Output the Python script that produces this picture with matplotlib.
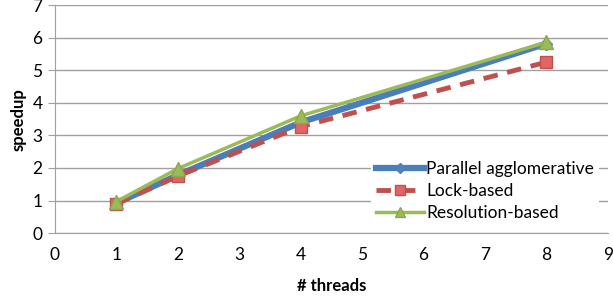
import matplotlib.pyplot as plt

threads = [1, 2, 4, 8]
parallel = [0.92, 1.78, 3.4, 5.82]
lock = [0.9, 1.75, 3.27, 5.25]
resolution = [0.97, 1.98, 3.6, 5.86]

plt.rcParams['font.family'] = ['Lato', 'DejaVu Sans']

fig = plt.figure(figsize=(6.13, 3.0), dpi=100)
ax = fig.add_axes([0.0897, 0.223, 0.902, 0.76])

ax.plot(threads, parallel, color='#4a7ebb', lw=4.5, marker='D', ms=6,
        mfc='#4f81bd', mec='#4a7ebb', label='Parallel agglomerative', zorder=3)
ax.plot(threads, lock, color='#c0504d', lw=3.5, ls=(0, (3, 2)), marker='s', ms=9,
        mfc='#e06666', mec='#c0504d', label='Lock-based', zorder=4)
ax.plot(threads, resolution, color='#9bbb59', lw=2.5, marker='^', ms=9.5,
        mfc='#9bbb59', mec='#8aa84f', label='Resolution-based', zorder=5)

ax.set_xlim(0, 9)
ax.set_ylim(0, 7)
ax.set_xticks(range(0, 10))
ax.set_yticks(range(0, 8))
ax.grid(axis='y', color='#a0a0a0', lw=1)
ax.set_axisbelow(True)
for s in ['top', 'right']:
    ax.spines[s].set_visible(False)
ax.spines['left'].set_color('#a0a0a0')
ax.spines['bottom'].set_color('#a0a0a0')
ax.tick_params(axis='y', length=5, color='#a0a0a0', labelsize=12.5, pad=4)
ax.tick_params(axis='x', length=0, labelsize=12.5, pad=10)

ax.set_xlabel('# threads', fontsize=12, fontweight='bold', labelpad=11)
ax.set_ylabel('speedup', fontsize=12, fontweight='bold', labelpad=4)

leg = ax.legend(loc='lower right', bbox_to_anchor=(1.0, -0.01), frameon=True,
                fontsize=12.5, handlelength=2.8, handletextpad=0.1,
                labelspacing=0.35, borderpad=0.3, markerscale=0.8)
leg.get_frame().set_edgecolor('none')
leg.get_frame().set_facecolor('white')
leg.get_frame().set_alpha(1)

fig.savefig('out.png', dpi=100)
